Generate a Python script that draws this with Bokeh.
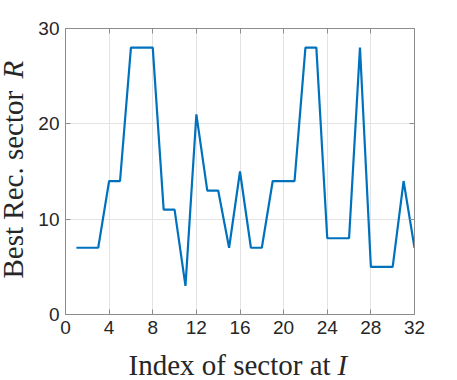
import math
from bokeh.plotting import figure
from bokeh.layouts import row, column
from bokeh.models import LinearAxis, Label, FixedTicker, Range1d
from bokeh.embed import file_html
from bokeh.resources import INLINE

sector_i = list(range(1, 33))
best_r = [7, 7, 7, 14, 14, 28, 28, 28, 11, 11, 3, 21, 13, 13, 7, 15,
          7, 7, 14, 14, 14, 28, 28, 8, 8, 8, 28, 5, 5, 5, 14, 7]
x_ticks = [0, 4, 8, 12, 16, 20, 24, 28, 32]
y_ticks = [0, 10, 20, 30]

YW = 30          # width of the y-label strip
XH = 35          # height of the x-label strip
MW, MH = 457 - YW, 380 - XH

p = figure(width=MW, height=MH, output_backend="svg", toolbar_location=None,
           x_range=Range1d(0, 32), y_range=Range1d(0, 30),
           min_border_left=65 - YW, min_border_right=43, min_border_top=28,
           min_border_bottom=MH - 314, outline_line_color=None,
           background_fill_color="white", border_fill_color="white")

p.line(sector_i, best_r, line_color="#0072BD", line_width=2.2)

axis_col = "#8c8c8c"
tick_font = "Liberation Sans"
for ax in p.xaxis + p.yaxis:
    ax.major_tick_in = 5
    ax.major_tick_out = 0
    ax.minor_tick_in = 0
    ax.minor_tick_out = 0
    ax.axis_line_color = axis_col
    ax.major_tick_line_color = axis_col
    ax.major_label_text_font = tick_font
    ax.major_label_text_font_size = "19px"
    ax.major_label_text_color = "#262626"
p.xaxis.ticker = FixedTicker(ticks=x_ticks)
p.yaxis.ticker = FixedTicker(ticks=y_ticks)
p.xaxis.major_label_standoff = 6
p.yaxis.major_label_standoff = 6

top = LinearAxis(ticker=FixedTicker(ticks=x_ticks), major_label_text_alpha=0,
                 major_label_text_font_size="1px", major_tick_in=5, major_tick_out=0,
                 minor_tick_in=0, minor_tick_out=0, axis_line_color=axis_col,
                 major_tick_line_color=axis_col)
right = LinearAxis(ticker=FixedTicker(ticks=y_ticks), major_label_text_alpha=0,
                   major_label_text_font_size="1px", major_tick_in=5, major_tick_out=0,
                   minor_tick_in=0, minor_tick_out=0, axis_line_color=axis_col,
                   major_tick_line_color=axis_col)
p.add_layout(top, "above")
p.add_layout(right, "right")

p.xgrid.ticker = FixedTicker(ticks=x_ticks)
p.ygrid.ticker = FixedTicker(ticks=y_ticks)
p.grid.grid_line_color = "#e3e3e3"
p.grid.grid_line_width = 1

lab_font = "Liberation Serif"
lab_size = "29px"
lab_col = "#262626"


def strip(w, h):
    f = figure(width=w, height=h, output_backend="svg", toolbar_location=None,
               x_range=Range1d(0, 1), y_range=Range1d(0, 1),
               x_axis_type=None, y_axis_type=None, min_border=0,
               outline_line_color=None, background_fill_color="white",
               border_fill_color="white")
    f.grid.visible = False
    return f


# x-axis label strip (below main figure; its frame lines up with the main frame)
xs = strip(MW, XH)
xs.add_layout(Label(x=128 - 65, y=16, x_units="screen", y_units="screen",
                    text="Index of sector at ", text_font=lab_font,
                    text_font_size=lab_size, text_color=lab_col,
                    text_align="left", text_baseline="alphabetic"))
xs.add_layout(Label(x=337 - 65, y=16, x_units="screen", y_units="screen",
                    text="I", text_font=lab_font, text_font_style="italic",
                    text_font_size=lab_size, text_color=lab_col,
                    text_align="left", text_baseline="alphabetic"))

# y-axis label strip (left of main figure)
ys = strip(YW, 380)
ys.add_layout(Label(x=12, y=380 - 278, x_units="screen", y_units="screen",
                    text="Best Rec. sector ", text_font=lab_font, angle=math.pi / 2,
                    text_font_size=lab_size, text_color=lab_col,
                    text_align="left", text_baseline="alphabetic"))
ys.add_layout(Label(x=12, y=380 - 78, x_units="screen", y_units="screen",
                    text="R", text_font=lab_font, text_font_style="italic",
                    angle=math.pi / 2, text_font_size=lab_size, text_color=lab_col,
                    text_align="left", text_baseline="alphabetic"))

layout = row(ys, column(p, xs, spacing=0), spacing=0)

open("out.html", "w").write(file_html(layout, INLINE))
